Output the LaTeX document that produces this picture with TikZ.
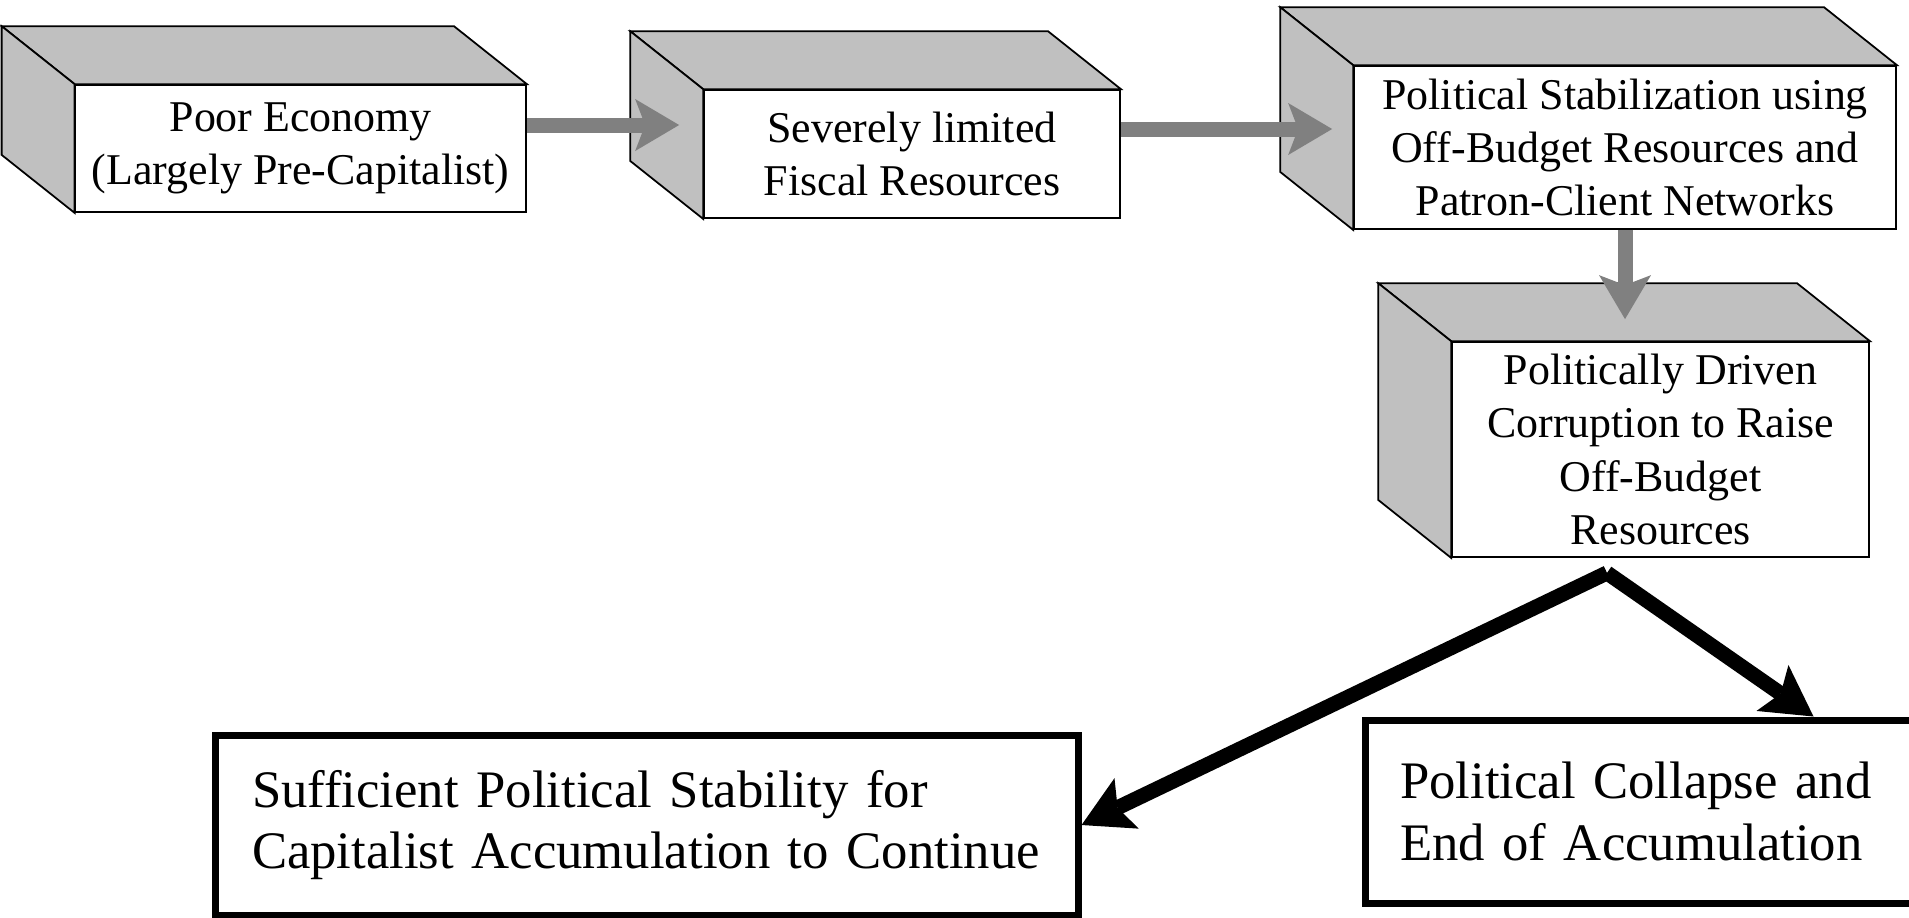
\documentclass[tikz,border=0pt]{standalone}
\usepackage{fontspec}
\setmainfont{Liberation Serif}
\usetikzlibrary{arrows.meta,backgrounds,calc}
\definecolor{facegray}{HTML}{C0C0C0}
\definecolor{arrowgray}{HTML}{808080}
\tikzset{
  cubebox/.style={draw=black, line width=0.5pt, fill=white, inner sep=0pt, align=center,
    font=\fontsize{12.5}{15.2}\selectfont},
  facefill/.style={fill=facegray, draw=black, line width=0.5pt, line join=miter},
  grayarrow/.style={draw=arrowgray, line width=1.5mm,
    -{Stealth[length=4.4mm,width=5.2mm,inset=1mm,line width=0pt]}},
  blackarrow/.style={draw=black, line width=1.5mm,
    -{Stealth[length=5mm,width=5.6mm,inset=1mm,line width=0pt]}},
  outcome/.style={draw=black, line width=2pt, fill=white, align=left, inner ysep=0pt,
    font=\fontsize{15}{17.6}\selectfont},
}
\begin{document}
\begin{tikzpicture}
\useasboundingbox (0,0) rectangle (19.09,-9.17);

\node[cubebox, minimum width=4.505cm, minimum height=1.27cm] (b1) at (3.0075,-1.485)
  {Poor Economy\\(Largely Pre-Capitalist)};
\node[cubebox, minimum width=4.16cm, minimum height=1.28cm] (b2) at (9.12,-1.54)
  {Severely limited\\Fiscal Resources};
\node[cubebox, minimum width=5.42cm, minimum height=1.63cm] (b3) at (16.25,-1.475)
  {Political Stabilization using\\Off-Budget Resources and\\Patron-Client Networks};
\node[cubebox, minimum width=4.17cm, minimum height=2.15cm] (b4) at (16.605,-4.495)
  {Politically Driven\\Corruption to Raise\\Off-Budget\\Resources};

\begin{scope}[on background layer]
\foreach \n in {b1,b2,b3,b4}{
  \draw[facefill] (\n.north west) -- ++(-0.73,0.58) -- ($(\n.north east)+(-0.73,0.58)$) -- (\n.north east) -- cycle;
  \draw[facefill] (\n.north west) -- ++(-0.73,0.58) -- ($(\n.south west)+(-0.73,0.58)$) -- (\n.south west) -- cycle;
}
\end{scope}

\node[outcome, inner xsep=0.365cm, text width=7.895cm, minimum height=1.8cm] (b5) at (6.4675,-8.25)
  {Sufficient Political Stability for\\Capitalist Accumulation to Continue};
\node[outcome, inner xsep=0.35cm, text width=5.3cm, minimum height=1.83cm] (b6) at (16.65,-8.115)
  {Political Collapse and\\End of Accumulation};

\draw[grayarrow] ([yshift=2.35mm]b1.east) -- ([xshift=-2.4mm,yshift=2.35mm]b1.east -| b2.west);
\draw[grayarrow] ([yshift=2.5mm]b2.east) -- ([xshift=-2.1mm,yshift=2.5mm]b2.east -| b3.west);
\draw[grayarrow] (b3.south) -- ([yshift=2.2mm]b3.south |- b4.north);

\coordinate (apex) at ([xshift=-5.35mm,yshift=-1.5mm]b4.south);
\coordinate (rtip) at ($(b6.north west)+(4.52,0)$);
\draw[blackarrow] (apex) -- (b5.east);
\draw[blackarrow] (apex) -- (rtip);
\end{tikzpicture}
\end{document}
